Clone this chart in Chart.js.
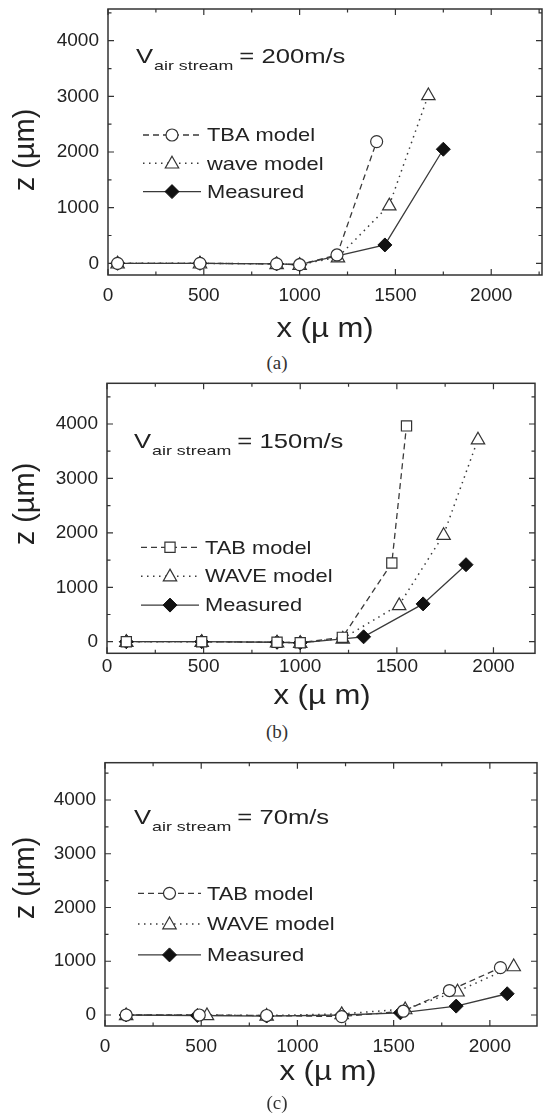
<!DOCTYPE html>
<html>
<head>
<meta charset="utf-8">
<script src="https://cdn.jsdelivr.net/npm/chart.js@4.4.0/dist/chart.umd.min.js"></script>
<style>
    body { margin: 0; background: #fff; width: 547px; height: 1120px; position: relative; overflow: hidden; }
    .panel { position: absolute; left: 0; width: 547px; }
    .cap { position: absolute; left: 0; width: 554px; text-align: center; font-family: "Liberation Serif", "DejaVu Serif", serif; font-size: 19px; line-height: 22px; color: #333; z-index: 2; }
</style>
</head>
<body>
<div class="panel" style="top:0px;height:350px"><canvas id="chartA"></canvas></div>
<div class="panel" style="top:374px;height:340px"><canvas id="chartB"></canvas></div>
<div class="panel" style="top:753px;height:340px"><canvas id="chartC"></canvas></div>
<div class="cap" style="top:352px">(a)</div>
<div class="cap" style="top:721px">(b)</div>
<div class="cap" style="top:1092px">(c)</div>
<script>
// tick labels shared by all three panels
const xTicks = [0, 500, 1000, 1500, 2000];
const zTicks = [0, 1000, 2000, 3000, 4000];

// (a) V air stream = 200 m/s
const aMeasuredX = [50, 480, 880, 1000, 1445, 1750];
const aMeasuredZ = [0, 0, -10, -25, 330, 2050];
const aTbaX = [50, 480, 880, 1000, 1195, 1402];
const aTbaZ = [0, 0, -10, -25, 150, 2187];
const aWaveX = [50, 480, 880, 1000, 1200, 1468, 1672];
const aWaveZ = [0, 0, -10, -25, 110, 1045, 3025];

// (b) V air stream = 150 m/s
const bMeasuredX = [100, 490, 880, 1000, 1328, 1636, 1858];
const bMeasuredZ = [0, 0, -10, -20, 90, 695, 1415];
const bTabX = [100, 490, 880, 1000, 1218, 1474, 1550];
const bTabZ = [0, 0, -10, -20, 80, 1445, 3965];
const bWaveX = [100, 490, 880, 1000, 1220, 1512, 1742, 1920];
const bWaveZ = [0, 0, -10, -20, 60, 676, 1965, 3720];

// (c) V air stream = 70 m/s
const cMeasuredX = [110, 480, 840, 1230, 1535, 1825, 2090];
const cMeasuredZ = [0, -10, -20, 0, 40, 165, 395];
const cTabX = [110, 490, 840, 1230, 1550, 1790, 2055];
const cTabZ = [0, 0, -10, -30, 70, 455, 880];
const cWaveX = [110, 530, 840, 1230, 1560, 1832, 2124];
const cWaveZ = [0, 0, -10, 20, 110, 440, 910];

const FONT = '"Liberation Sans", Arial, sans-serif';
const INK = '#222';
const LINE = '#3a3a3a';

function pts(xs, zs) {
    return xs.map((x, i) => ({ x: x, y: zs[i] }));
}

function drawMarker(ctx, style, r, x, y) {
    ctx.beginPath();
    if (style === 'circle') {
        ctx.arc(x, y, r, 0, Math.PI * 2);
    } else if (style === 'rect') {
        ctx.rect(x - r * 0.85, y - r * 0.85, r * 1.7, r * 1.7);
    } else if (style === 'triangle') {
        ctx.moveTo(x, y - r * 1.05);
        ctx.lineTo(x + r, y + r * 0.7);
        ctx.lineTo(x - r, y + r * 0.7);
        ctx.closePath();
    } else {
        ctx.moveTo(x, y - r);
        ctx.lineTo(x + r, y);
        ctx.lineTo(x, y + r);
        ctx.lineTo(x - r, y);
        ctx.closePath();
    }
    ctx.fill();
    ctx.stroke();
}

// the scanned lettering is a bit wider than Arial, so stretch it sideways
function wideText(ctx, text, x, y, size, sx, align, baseline) {
    ctx.save();
    ctx.font = size + 'px ' + FONT;
    ctx.textAlign = align || 'left';
    ctx.textBaseline = baseline || 'alphabetic';
    ctx.translate(x, y);
    ctx.scale(sx, 1);
    ctx.fillText(text, 0, 0);
    const w = ctx.measureText(text).width * sx;
    ctx.restore();
    return w;
}

// box with inward ticks on all four sides, like the original plot
const framePlugin = {
    id: 'frame',
    afterDatasetsDraw(chart) {
        const ctx = chart.ctx;
        const a = chart.chartArea;
        const xs = chart.scales.x;
        const ys = chart.scales.y;
        ctx.save();
        ctx.strokeStyle = '#333';
        ctx.lineWidth = 1.5;
        ctx.strokeRect(a.left, a.top, a.right - a.left, a.bottom - a.top);
        ctx.lineWidth = 1.2;

        function marks(scale, step) {
            const out = [];
            for (let v = Math.ceil(scale.min / (step / 2)) * (step / 2); v <= scale.max; v += step / 2) {
                out.push({ v: v, major: Math.abs(v % step) < 1e-6 });
            }
            return out;
        }
        ctx.beginPath();
        marks(xs, 500).forEach(m => {
            const px = xs.getPixelForValue(m.v);
            const len = m.major ? 6 : 3.5;
            ctx.moveTo(px, a.bottom); ctx.lineTo(px, a.bottom - len);
            ctx.moveTo(px, a.top); ctx.lineTo(px, a.top + len);
        });
        marks(ys, 1000).forEach(m => {
            const py = ys.getPixelForValue(m.v);
            const len = m.major ? 6 : 3.5;
            ctx.moveTo(a.left, py); ctx.lineTo(a.left + len, py);
            ctx.moveTo(a.right, py); ctx.lineTo(a.right - len, py);
        });
        ctx.stroke();
        ctx.restore();
    }
};

// points drawn with the same helper as the legend so they match
const markerPlugin = {
    id: 'markers',
    afterDatasetsDraw(chart) {
        const ctx = chart.ctx;
        ctx.save();
        for (let i = chart.data.datasets.length - 1; i >= 0; i--) {
            const ds = chart.data.datasets[i];
            const meta = chart.getDatasetMeta(i);
            ctx.fillStyle = ds.markerFill;
            ctx.strokeStyle = ds.markerStroke;
            ctx.lineWidth = ds.markerWidth;
            meta.data.forEach(pt => drawMarker(ctx, ds.markerStyle, ds.markerRadius, pt.x, pt.y));
        }
        ctx.restore();
    }
};

// axis titles, legend and air speed label
const insidePlugin = {
    id: 'inside',
    afterDraw(chart) {
        const o = chart.options.plugins.inside;
        const ctx = chart.ctx;
        ctx.save();
        ctx.fillStyle = INK;

        // axis titles
        wideText(ctx, 'x (µ m)', o.xtx, o.xty, 27, 1.15, 'center', 'middle');
        ctx.save();
        ctx.translate(o.ytx, o.yty);
        ctx.rotate(-Math.PI / 2);
        ctx.font = '29px ' + FONT;
        ctx.textAlign = 'center';
        ctx.textBaseline = 'middle';
        ctx.fillText('z (µm)', 0, 0);
        ctx.restore();

        // V_air stream = ...
        let cx = o.vx;
        cx += wideText(ctx, 'V', cx, o.vy, 21, 1.22);
        cx += wideText(ctx, 'air stream', cx + 1, o.vy + 7, 13.5, 1.32) + 7;
        wideText(ctx, o.speed, cx, o.vy, 21, 1.22);

        // legend rows
        chart.data.datasets.forEach(ds => {
            const y = o.ly + o.gap * ds.legendRow;
            ctx.strokeStyle = ds.borderColor;
            ctx.lineWidth = ds.borderWidth;
            ctx.setLineDash(ds.borderDash || []);
            ctx.beginPath();
            ctx.moveTo(o.lx, y);
            ctx.lineTo(o.lx + o.sw, y);
            ctx.stroke();
            ctx.setLineDash([]);
            ctx.fillStyle = ds.markerFill;
            ctx.strokeStyle = ds.markerStroke;
            ctx.lineWidth = ds.markerWidth;
            drawMarker(ctx, ds.markerStyle, ds.markerRadius, o.lx + o.sw / 2, y);
            ctx.fillStyle = INK;
            wideText(ctx, ds.label, o.lx + o.sw + 6, y + 1, 19, 1.15, 'left', 'middle');
        });
        ctx.restore();
    }
};

function dashedSet(label, data, style) {
    return {
        label: label, data: data, legendRow: 0, order: 2,
        borderColor: LINE, borderWidth: 1.3, borderDash: [6, 4],
        markerStyle: style, markerRadius: style === 'rect' ? 6 : 6,
        markerFill: '#fff', markerStroke: '#333', markerWidth: 1.2
    };
}

function dottedSet(label, data) {
    return {
        label: label, data: data, legendRow: 1, order: 1,
        borderColor: LINE, borderWidth: 1.5, borderDash: [1.5, 4.5],
        markerStyle: 'triangle', markerRadius: 6.7,
        markerFill: '#fff', markerStroke: '#333', markerWidth: 1.2
    };
}

function measuredSet(data) {
    return {
        label: 'Measured', data: data, legendRow: 2, order: 0,
        borderColor: LINE, borderWidth: 1.3, borderDash: [],
        markerStyle: 'rectRot', markerRadius: 7,
        markerFill: '#111', markerStroke: '#111', markerWidth: 1
    };
}

function makePanel(canvasId, datasets, p) {
    const ctx = document.getElementById(canvasId).getContext('2d');
    datasets.forEach(ds => {
        ds.showLine = true;
        ds.pointRadius = 0;
        ds.pointHoverRadius = 0;
    });
    return new Chart(ctx, {
        type: 'scatter',
        data: { datasets: datasets },
        options: {
            responsive: true,
            maintainAspectRatio: false,
            animation: false,
            events: [],
            elements: { line: { tension: 0 } },
            layout: { autoPadding: false, padding: { top: p.top, right: p.right, left: 0, bottom: 0 } },
            plugins: {
                legend: { display: false },
                tooltip: { enabled: false },
                inside: p.inside
            },
            scales: {
                x: {
                    type: 'linear', min: p.xMin, max: p.xMax,
                    afterBuildTicks: s => { s.ticks = xTicks.map(v => ({ value: v })); },
                    afterFit: s => { s.height = p.xAxisH; s.paddingLeft = 0; s.paddingRight = 0; },
                    grid: { display: false, drawTicks: false },
                    border: { display: false },
                    ticks: { padding: p.xPad, color: INK, maxRotation: 0, font: { size: 19, family: FONT }, callback: v => String(v) },
                    title: { display: false }
                },
                y: {
                    type: 'linear', min: p.zMin, max: p.zMax,
                    afterBuildTicks: s => { s.ticks = zTicks.map(v => ({ value: v })); },
                    afterFit: s => { s.width = p.left; s.paddingTop = 0; s.paddingBottom = 0; },
                    grid: { display: false, drawTicks: false },
                    border: { display: false },
                    ticks: { padding: 9, color: INK, font: { size: 19, family: FONT }, callback: v => String(v) },
                    title: { display: false }
                }
            }
        },
        plugins: [framePlugin, markerPlugin, insidePlugin]
    });
}

makePanel('chartA', [
    dashedSet('TBA model', pts(aTbaX, aTbaZ), 'circle'),
    dottedSet('wave model', pts(aWaveX, aWaveZ)),
    measuredSet(pts(aMeasuredX, aMeasuredZ))
], {
    top: 9, right: 5, left: 108, xMin: 0, xMax: 2265, zMin: -210, zMax: 4570,
    xAxisH: 75, xPad: 9,
    inside: {
        vx: 136, vy: 63, speed: '= 200m/s', lx: 143, ly: 135, gap: 28.3, sw: 58,
        xtx: 325, xty: 330, ytx: 26, yty: 150
    }
});

makePanel('chartB', [
    dashedSet('TAB model', pts(bTabX, bTabZ), 'rect'),
    dottedSet('WAVE model', pts(bWaveX, bWaveZ)),
    measuredSet(pts(bMeasuredX, bMeasuredZ))
], {
    top: 9.3, right: 12, left: 107, xMin: 0, xMax: 2215, zMin: -213, zMax: 4748,
    xAxisH: 60.7, xPad: 2,
    inside: {
        vx: 134, vy: 73.5, speed: '= 150m/s', lx: 141, ly: 173.3, gap: 28.9, sw: 58,
        xtx: 322, xty: 323, ytx: 26, yty: 130
    }
});

makePanel('chartC', [
    dashedSet('TAB model', pts(cTabX, cTabZ), 'circle'),
    dottedSet('WAVE model', pts(cWaveX, cWaveZ)),
    measuredSet(pts(cMeasuredX, cMeasuredZ))
], {
    top: 9.7, right: 10, left: 105, xMin: 0, xMax: 2245, zMin: -205, zMax: 4694,
    xAxisH: 67, xPad: 9,
    inside: {
        vx: 134, vy: 71, speed: '= 70m/s', lx: 138, ly: 140.3, gap: 30.8, sw: 63,
        xtx: 328, xty: 320, ytx: 26, yty: 125
    }
});
</script>
</body>
</html>
